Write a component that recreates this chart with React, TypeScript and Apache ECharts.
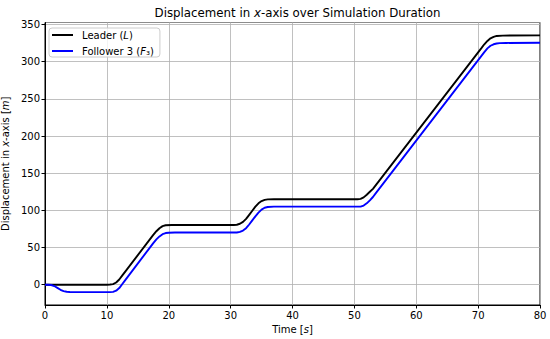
import React, { useEffect, useRef } from "react";
import * as echarts from "echarts";

const leaderTime = [0, 10, 10.5, 11, 11.5, 12, 12.5, 13, 17.5, 18, 18.5, 19, 19.5, 20.5, 30.5, 31, 31.5, 32, 32.5, 33, 33.5, 34, 34.5, 35, 35.5, 36, 37, 50.5, 51, 51.5, 52, 52.5, 53, 70.5, 71, 71.5, 72, 72.5, 73, 74, 80];
const leaderX = [0, 0, 0.2, 0.8, 3, 7, 12.5, 18, 67, 72, 76, 78.8, 80, 80.3, 80.3, 80.7, 82, 84.5, 88.5, 94, 99.5, 105, 109.5, 112.5, 114.2, 114.8, 115, 115, 115.5, 117.5, 121, 125, 129, 318, 323.5, 328, 331.5, 333.5, 334.7, 335.2, 335.5];

const followerTime = [0, 0.5, 1, 1.5, 2, 2.5, 3, 3.5, 4, 5, 10.5, 11, 11.5, 12, 12.5, 13, 17.5, 18, 18.5, 19, 19.5, 20, 21, 31, 31.5, 32, 32.5, 33, 33.5, 34, 34.5, 35, 35.5, 36, 37, 51, 51.5, 52, 52.5, 53, 53.5, 71, 71.5, 72, 72.5, 73, 73.5, 74.5, 80];
const followerX = [0, 0, -0.4, -1.8, -4.2, -6.8, -8.6, -9.5, -9.8, -10, -10, -9.6, -8, -4.5, 1, 6.5, 56, 61, 65, 68, 69.5, 70, 70.2, 70.2, 71, 72.8, 76, 81, 86.5, 92, 97, 101, 103.5, 104.6, 105, 105, 106.5, 109.5, 113.5, 118, 123.5, 313, 318, 321.5, 323.5, 324.6, 325, 325.3, 325.5];

const xTicks = [0, 10, 20, 30, 40, 50, 60, 70, 80];
const seriesNames = ["Leader", "Follower 3"];
const legendLabels = ["Leader ({i|L})", "Follower 3 ({i|F}₃)"];

const FONT = "DejaVu Sans";
const FS = 10;

export default function App() {
  const ref = useRef<HTMLDivElement>(null);
  useEffect(() => {
    const chart = echarts.init(ref.current!, null, { renderer: "svg" });
    const italic = { fontStyle: "italic", fontFamily: FONT, color: "#000" };
    chart.setOption({
      animation: false,
      backgroundColor: "#fff",
      title: {
        text: "Displacement in {i|x}-axis over Simulation Duration",
        left: 292.5,
        top: 2,
        textAlign: "center",
        textStyle: {
          fontFamily: FONT,
          fontSize: 11.8,
          fontWeight: "normal",
          color: "#000",
          rich: { i: { ...italic, fontSize: 11.8 } },
        },
      },
      legend: {
        orient: "vertical",
        left: 49,
        top: 28,
        padding: [1, 6, 0, 3],
        itemGap: 4,
        itemWidth: 21,
        itemHeight: 2,
        icon: "rect",
        backgroundColor: "rgba(255,255,255,0.8)",
        borderColor: "#cccccc",
        borderWidth: 1,
        borderRadius: 3,
        data: seriesNames,
        formatter: (name: string) => legendLabels[seriesNames.indexOf(name)],
        textStyle: {
          fontFamily: FONT,
          fontSize: FS,
          lineHeight: 12,
          color: "#000",
          padding: [0, 0, 0, 4],
          rich: { i: { ...italic, fontSize: FS, lineHeight: 12 } },
        },
      },
      grid: {
        left: 45, right: 10, top: 22.5, bottom: 34,
        containLabel: false, outerBoundsMode: "none",
        show: true, borderColor: "#000", borderWidth: 1, backgroundColor: "transparent",
      },
      xAxis: {
        type: "value",
        min: 0,
        max: 80,
        interval: 10,
        name: "Time [{i|s}]",
        nameLocation: "middle",
        nameGap: 18,
        nameTextStyle: { fontFamily: FONT, fontSize: FS, color: "#000", rich: { i: { ...italic, fontSize: FS } } },
        axisLine: { show: true, onZero: false, lineStyle: { color: "#000", width: 1 } },
        axisTick: { show: true, length: 3.5, lineStyle: { color: "#000" } },
        axisLabel: { fontFamily: FONT, fontSize: FS, color: "#000", margin: 5, formatter: (v: number) => (xTicks.includes(v) ? String(v) : "") },
        splitLine: { show: true, lineStyle: { color: "#b0b0b0", width: 0.8 } },
      },
      yAxis: {
        type: "value",
        min: -27.3,
        max: 352.8,
        splitNumber: 8,
        minInterval: 50,
        maxInterval: 50,
        name: "Displacement in {i|x}-axis [{i|m}]",
        nameLocation: "middle",
        nameRotate: 90,
        nameGap: 25,
        nameTextStyle: { fontFamily: FONT, fontSize: FS, color: "#000", rich: { i: { ...italic, fontSize: FS } } },
        axisLine: { show: true, onZero: false, lineStyle: { color: "#000", width: 1 } },
        axisTick: { show: true, length: 3.5, lineStyle: { color: "#000" } },
        axisLabel: { fontFamily: FONT, fontSize: FS, color: "#000", margin: 5, showMinLabel: false, showMaxLabel: false },
        splitLine: { show: true, lineStyle: { color: "#b0b0b0", width: 0.8 } },
      },
      series: [
        {
          name: seriesNames[0],
          type: "line",
          symbol: "none",
          lineStyle: { color: "#000000", width: 1.9 },
          itemStyle: { color: "#000000" },
          data: leaderTime.map((t, i) => [t, leaderX[i]]),
          z: 3,
        },
        {
          name: seriesNames[1],
          type: "line",
          symbol: "none",
          lineStyle: { color: "#0000ff", width: 1.9 },
          itemStyle: { color: "#0000ff" },
          data: followerTime.map((t, i) => [t, followerX[i]]),
          z: 3,
        },
      ],
    });
    return () => chart.dispose();
  }, []);
  return <div ref={ref} style={{ width: 550, height: 339, position: "fixed", left: 0, top: 0 }} />;
}
